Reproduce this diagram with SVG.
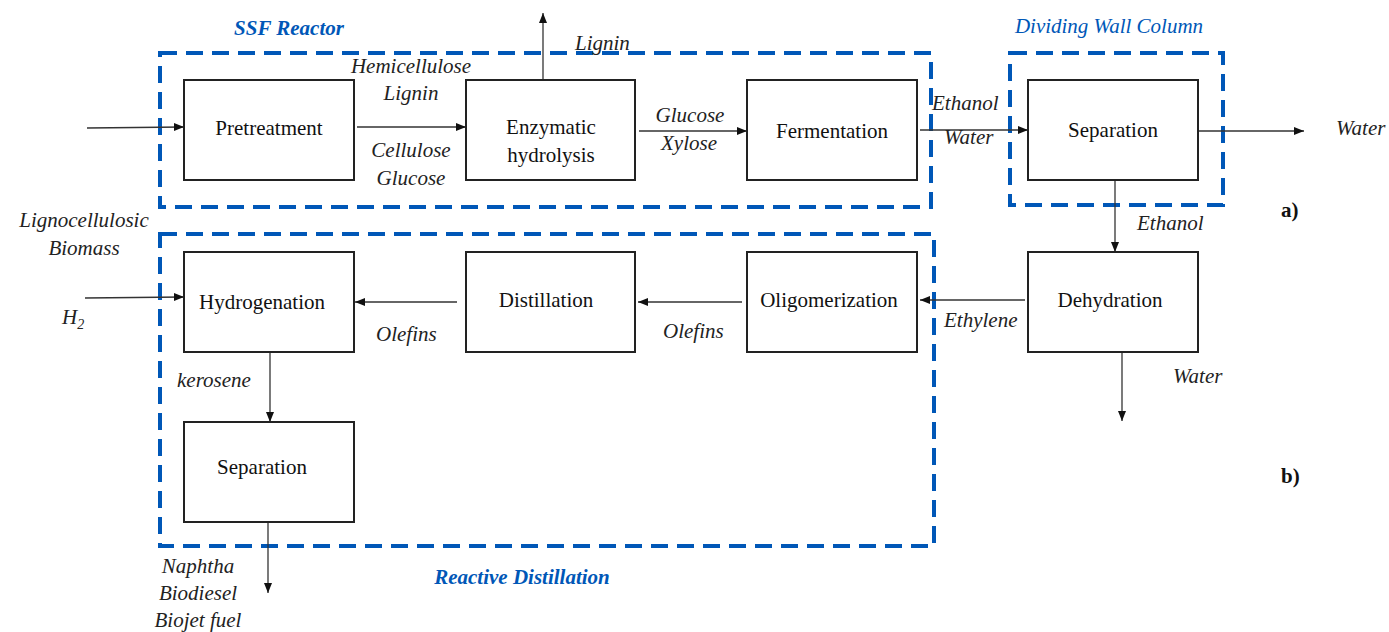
<svg xmlns="http://www.w3.org/2000/svg" width="1389" height="632" viewBox="0 0 1389 632" font-family="'Liberation Serif', 'Times New Roman', serif">
<style>
.box{fill:#fff;stroke:#222;stroke-width:2}
.grp{fill:none;stroke:#0057b7;stroke-width:4;stroke-dasharray:17 9}
.nt{font-size:21px;fill:#111;text-anchor:middle}
.lb{font-size:21px;font-style:italic;fill:#222}
.bl{font-size:21px;font-style:italic;fill:#0057b7}
.bb{font-weight:bold}
.ln{stroke:#333;stroke-width:1.3;fill:none;marker-end:url(#ah)}
</style>
<defs>
<marker id="ah" viewBox="0 0 10 10" refX="10" refY="5" markerWidth="10" markerHeight="10" markerUnits="userSpaceOnUse" orient="auto">
<path d="M0,1 L10,5 L0,9 z" fill="#111"/>
</marker>
</defs>
<rect width="1389" height="632" fill="#fff"/>
<g id="groups">
<rect class="grp" x="160" y="53" width="771" height="154"/>
<rect class="grp" x="1010" y="53" width="213" height="152"/>
<rect class="grp" x="160" y="234" width="774" height="312"/>
<text class="bl bb" x="289" y="35" text-anchor="middle">SSF Reactor</text>
<text class="bl" x="1109" y="33" text-anchor="middle">Dividing Wall Column</text>
<text class="bl bb" x="522" y="584" text-anchor="middle">Reactive Distillation</text>
</g>
<g id="connectors">
<path class="ln" d="M87,128 L184,127"/>
<path class="ln" d="M357,127 L466,127"/>
<path class="ln" d="M543,80 L543,13"/>
<path class="ln" d="M639,131 L747,131"/>
<path class="ln" d="M920,130 L1028,130"/>
<path class="ln" d="M1198,131 L1304,131"/>
<path class="ln" d="M1115,180 L1115,252"/>
<path class="ln" d="M1025,300 L920,300"/>
<path class="ln" d="M742,302 L638,302"/>
<path class="ln" d="M457,302 L355,302"/>
<path class="ln" d="M85,298 L184,297"/>
<path class="ln" d="M270,352 L270,422"/>
<path class="ln" d="M268,522 L268,593"/>
<path class="ln" d="M1122,352 L1122,421"/>
</g>
<g id="pretreatment"><rect class="box" x="184" y="80" width="170" height="100"/><text class="nt" x="269" y="135">Pretreatment</text></g>
<g id="enzymatic"><rect class="box" x="466" y="80" width="169" height="100"/><text class="nt" x="551" y="134">Enzymatic</text><text class="nt" x="551" y="162">hydrolysis</text></g>
<g id="fermentation"><rect class="box" x="747" y="80" width="170" height="100"/><text class="nt" x="832" y="138">Fermentation</text></g>
<g id="separation1"><rect class="box" x="1028" y="80" width="170" height="100"/><text class="nt" x="1113" y="137">Separation</text></g>
<g id="hydrogenation"><rect class="box" x="184" y="252" width="170" height="100"/><text class="nt" x="262" y="309">Hydrogenation</text></g>
<g id="distillation"><rect class="box" x="466" y="252" width="169" height="100"/><text class="nt" x="546" y="307">Distillation</text></g>
<g id="oligomerization"><rect class="box" x="747" y="252" width="170" height="100"/><text class="nt" x="829" y="307">Oligomerization</text></g>
<g id="dehydration"><rect class="box" x="1028" y="252" width="170" height="100"/><text class="nt" x="1110" y="307">Dehydration</text></g>
<g id="separation2"><rect class="box" x="184" y="422" width="170" height="100"/><text class="nt" x="262" y="474">Separation</text></g>
<g id="labels">
<text class="lb" x="411" y="73" text-anchor="middle">Hemicellulose</text>
<text class="lb" x="411" y="100" text-anchor="middle">Lignin</text>
<text class="lb" x="411" y="157" text-anchor="middle">Cellulose</text>
<text class="lb" x="411" y="185" text-anchor="middle">Glucose</text>
<text class="lb" x="575" y="50">Lignin</text>
<text class="lb" x="690" y="122" text-anchor="middle">Glucose</text>
<text class="lb" x="689" y="150" text-anchor="middle">Xylose</text>
<text class="lb" x="932" y="110">Ethanol</text>
<text class="lb" x="944" y="144">Water</text>
<text class="lb" x="1336" y="135">Water</text>
<text class="bb" font-size="21" fill="#111" x="1281" y="217">a)</text>
<text class="lb" x="1137" y="230">Ethanol</text>
<text class="lb" x="84" y="227" text-anchor="middle">Lignocellulosic</text>
<text class="lb" x="84" y="255" text-anchor="middle">Biomass</text>
<text class="lb" x="62" y="324">H<tspan font-size="14" dy="5">2</tspan></text>
<text class="lb" x="376" y="341">Olefins</text>
<text class="lb" x="663" y="338">Olefins</text>
<text class="lb" x="944" y="327">Ethylene</text>
<text class="lb" x="1173" y="383">Water</text>
<text class="bb" font-size="21" fill="#111" x="1281" y="483">b)</text>
<text class="lb" x="177" y="387">kerosene</text>
<text class="lb" x="198" y="573" text-anchor="middle">Naphtha</text>
<text class="lb" x="198" y="600" text-anchor="middle">Biodiesel</text>
<text class="lb" x="198" y="627" text-anchor="middle">Biojet fuel</text>
</g>
</svg>
